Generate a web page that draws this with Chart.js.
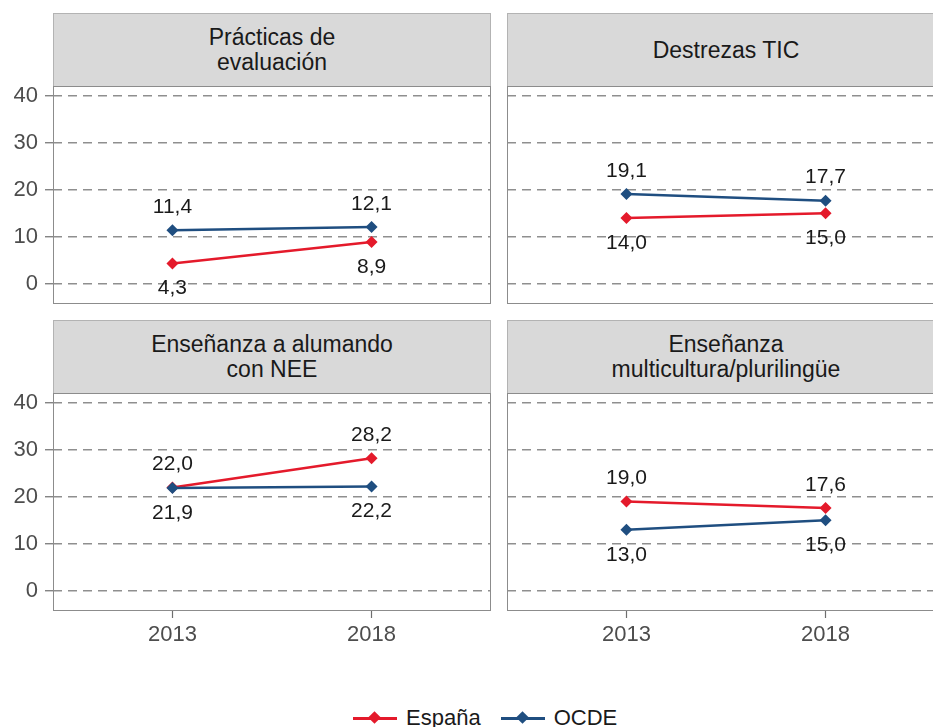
<!DOCTYPE html>
<html lang="es">
<head>
<meta charset="utf-8">
<script src="https://cdn.jsdelivr.net/npm/chart.js@4.4.0/dist/chart.umd.min.js"></script>
<style>
  body { margin: 0; width: 933px; height: 727px; overflow: hidden; background: #fff; position: relative;
         font-family: "Liberation Sans", Arial, sans-serif; }
  .caja { position: absolute; }
  .tira { position: absolute; width: 438px; height: 73px; background: #d9d9d9; box-sizing: border-box;
          border: 1px solid #b3b3b3; border-bottom: none; display: flex; align-items: center; justify-content: center;
          text-align: center; font-size: 23px; line-height: 25px; color: #1a1a1a; }
  #leyenda { position: absolute; left: 353px; top: 705px; display: flex; align-items: center; font-size: 22px; color: #1a1a1a; }
  .item { display: flex; align-items: center; margin-right: 20px; }
  .clave { position: relative; width: 44px; height: 14px; margin-right: 9px; }
  .clave::before { content: ""; position: absolute; left: 0; right: 0; top: 6px; height: 3px; background: var(--c); }
  .clave::after { content: ""; position: absolute; left: 17px; top: 2px; width: 9px; height: 9px; background: var(--c); transform: rotate(45deg); }
</style>
</head>
<body>
<div id="graficos"></div>
<div id="leyenda"></div>
<script>
// Datos
const anios = ['2013', '2018'];
const titulos = ['Prácticas de\nevaluación', 'Destrezas TIC', 'Enseñanza a alumando\ncon NEE', 'Enseñanza\nmulticultura/plurilingüe'];
const espana = [[4.3, 8.9], [14.0, 15.0], [22.0, 28.2], [19.0, 17.6]];
const ocde = [[11.4, 12.1], [19.1, 17.7], [21.9, 22.2], [13.0, 15.0]];
const yTicks = [0, 10, 20, 30, 40];

const series = [
  { nombre: 'España', color: '#E41A2B', valores: espana, orden: 2 },
  { nombre: 'OCDE', color: '#1F4E80', valores: ocde, orden: 1 }
];

const fuente = "'Liberation Sans', Arial, sans-serif";
const gris = '#4d4d4d';

// Posicion de cada panel (area de trazado)
const paneles = [
  { left: 53, top: 86, fila: 0, col: 0 },
  { left: 507, top: 86, fila: 0, col: 1 },
  { left: 53, top: 393, fila: 1, col: 0 },
  { left: 507, top: 393, fila: 1, col: 1 }
];
const ancho = 438, alto = 218, margen = 24, ejeX = 40;

// Marco gris alrededor del area de trazado
const marco = {
  id: 'marco',
  beforeDatasetsDraw(chart) {
    const a = chart.chartArea, ctx = chart.ctx;
    ctx.save();
    ctx.strokeStyle = '#8c8c8c';
    ctx.lineWidth = 1;
    ctx.strokeRect(a.left + 0.5, a.top + 0.5, a.right - a.left - 1, a.bottom - a.top - 1);
    ctx.restore();
  }
};

// Etiquetas de valor: arriba la serie mayor, abajo la menor
const etiquetas = {
  id: 'etiquetas',
  afterDatasetsDraw(chart) {
    const ctx = chart.ctx;
    ctx.save();
    ctx.font = '21px ' + fuente;
    ctx.fillStyle = '#1a1a1a';
    ctx.textAlign = 'center';
    ctx.textBaseline = 'middle';
    chart.data.datasets.forEach((ds, i) => {
      const otro = chart.data.datasets[1 - i];
      chart.getDatasetMeta(i).data.forEach((pt, j) => {
        const v = ds.data[j].y;
        const arriba = v >= otro.data[j].y;
        const texto = v.toFixed(1).replace('.', ',');
        ctx.fillText(texto, pt.x, pt.y + (arriba ? -23 : 25));
      });
    });
    ctx.restore();
  }
};

const cont = document.getElementById('graficos');

paneles.forEach((p, k) => {
  // Tira con el titulo
  const tira = document.createElement('div');
  tira.className = 'tira';
  tira.style.left = p.left + 'px';
  tira.style.top = (p.top - 73) + 'px';
  tira.innerHTML = titulos[k].split('\n').join('<br>');
  cont.appendChild(tira);

  const izq = p.col === 0 ? 53 : 10;
  const abajo = p.fila === 1 ? ejeX : margen;
  const w = izq + ancho + 1;
  const h = margen + alto + abajo;

  const caja = document.createElement('div');
  caja.className = 'caja';
  caja.style.left = (p.left - izq) + 'px';
  caja.style.top = (p.top - margen) + 'px';
  const canvas = document.createElement('canvas');
  canvas.width = w;
  canvas.height = h;
  caja.appendChild(canvas);
  cont.appendChild(caja);

  new Chart(canvas.getContext('2d'), {
    type: 'line',
    data: {
      datasets: series.map(s => ({
        label: s.nombre,
        data: s.valores[k].map((v, i) => ({ x: i + 1, y: v })),
        borderColor: s.color,
        backgroundColor: s.color,
        borderWidth: 2.5,
        pointStyle: 'rectRot',
        pointRadius: 6,
        pointBorderWidth: 0,
        order: s.orden
      }))
    },
    options: {
      responsive: false,
      animation: false,
      layout: {
        autoPadding: false,
        padding: { top: margen, bottom: p.fila === 1 ? 0 : margen, left: p.col === 0 ? 0 : 10, right: 1 }
      },
      plugins: { legend: { display: false }, tooltip: { enabled: false } },
      scales: {
        x: {
          type: 'linear',
          min: 0.4,
          max: 2.6,
          display: p.fila === 1,
          afterBuildTicks: s => { s.ticks = anios.map((_, i) => ({ value: i + 1 })); },
          afterFit: s => { s.height = p.fila === 1 ? ejeX : 0; },
          grid: { drawOnChartArea: false, drawTicks: true, tickLength: 7, tickColor: '#6e6e6e', tickWidth: 1.2 },
          border: { display: false },
          ticks: {
            padding: 4,
            color: gris,
            font: { family: fuente, size: 22 },
            callback: v => anios[v - 1],
            maxRotation: 0
          }
        },
        y: {
          min: -4.3,
          max: 42.1,
          afterBuildTicks: s => { s.ticks = yTicks.map(v => ({ value: v })); },
          afterFit: s => { s.width = p.col === 0 ? 53 : 0; },
          grid: {
            color: '#8f8f8f',
            lineWidth: 1.5,
            drawTicks: p.col === 0,
            tickLength: 8,
            tickColor: '#6e6e6e',
            tickWidth: 1.2,
            tickBorderDash: []
          },
          border: { display: false, dash: [9, 6] },
          ticks: {
            display: p.col === 0,
            padding: 7,
            color: gris,
            font: { family: fuente, size: 22 }
          }
        }
      }
    },
    plugins: [marco, etiquetas]
  });
});

// Leyenda
const leyenda = document.getElementById('leyenda');
series.forEach(s => {
  const item = document.createElement('span');
  item.className = 'item';
  const clave = document.createElement('span');
  clave.className = 'clave';
  clave.style.setProperty('--c', s.color);
  item.appendChild(clave);
  item.appendChild(document.createTextNode(s.nombre));
  leyenda.appendChild(item);
});
</script>
</body>
</html>
